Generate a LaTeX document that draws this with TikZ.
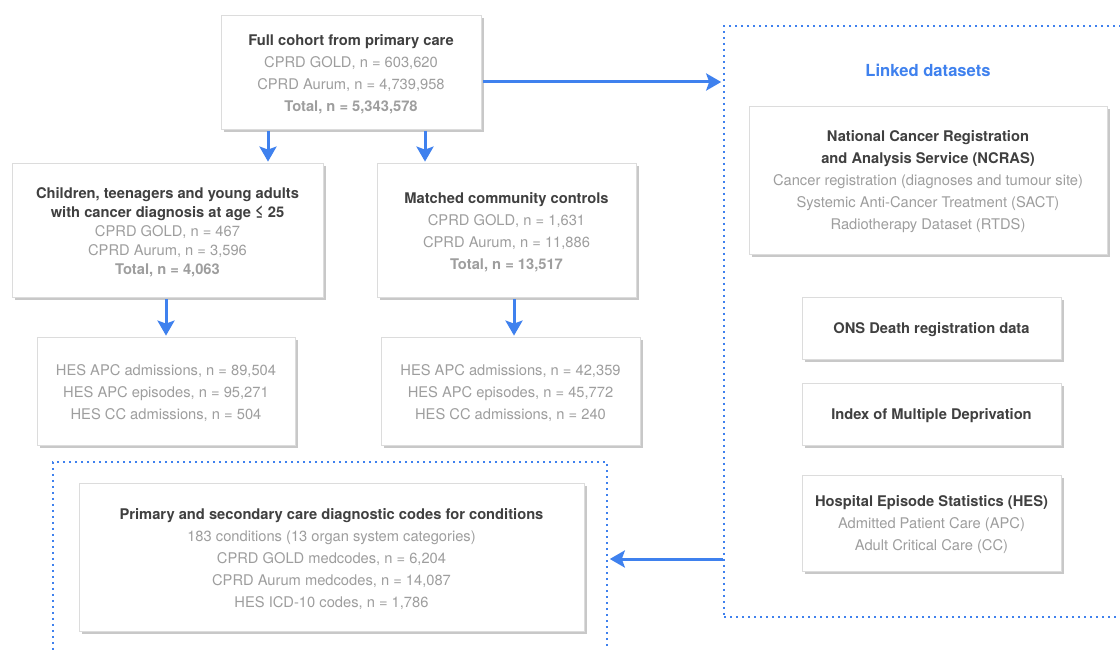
\documentclass[tikz,border=0pt]{standalone}
\usepackage{fontspec}
\setmainfont{TeX Gyre Heros}
\usetikzlibrary{arrows.meta,shadows}
\definecolor{blu}{HTML}{3F81EE}
\definecolor{ttl}{HTML}{404040}
\definecolor{sub}{HTML}{9E9E9E}
\definecolor{bord}{HTML}{DCDCDC}
\definecolor{shd}{HTML}{C8C8C8}
\tikzset{
  box/.style={draw=bord, fill=white, line width=0.8pt, align=center, inner sep=0pt,
    drop shadow={shadow xshift=3pt, shadow yshift=-3pt, opacity=1, fill=shd},
    font=\fontsize{14.7}{22}\selectfont, text=sub},
  container/.style={draw=blu, line width=1.6pt, dash pattern=on 1.6pt off 4.4pt, inner sep=0pt},
  arr/.style={draw=blu, line width=3pt, -{Stealth[width=17pt,length=15pt,inset=3pt]}},
}
\newcommand{\ttlb}[1]{{\bfseries\color{ttl}#1}}
\newcommand{\topstrut}{\rule{0pt}{15pt}}
\begin{document}
\begin{tikzpicture}[x=1pt,y=-1pt]
\clip (0,0) rectangle (1120,650);
\fill[white] (0,0) rectangle (1120,650);

% containers
\node[container, minimum width=416pt, minimum height=591pt] (linked) at (932,321.5) {};
\node[container, minimum width=554pt, minimum height=218pt] (codes) at (330,571) {};
\node[font=\fontsize{16.6}{20}\selectfont\bfseries, text=blu] (ltitle) at (928,70) {Linked datasets};

% left column
\node[box, minimum width=260pt, minimum height=114pt] (full) at (351,72)
  {\topstrut\ttlb{Full cohort from primary care}\\ CPRD GOLD, n = 603,620\\ CPRD Aurum, n = 4,739,958\\ \textbf{Total, n = 5,343,578}};

\node[box, minimum width=311pt, minimum height=134pt, font=\fontsize{14.7}{19}\selectfont] (child) at (167.5,230)
  {\topstrut\ttlb{Children, teenagers and young adults}\\ \ttlb{with cancer diagnosis at age ≤ 25}\\ CPRD GOLD, n = 467\\ CPRD Aurum, n = 3,596\\ \textbf{Total, n = 4,063}};

\node[box, minimum width=259pt, minimum height=134pt] (match) at (506.5,230)
  {\topstrut\ttlb{Matched community controls}\\ CPRD GOLD, n = 1,631\\ CPRD Aurum, n = 11,886\\ \textbf{Total, n = 13,517}};

\node[box, minimum width=258pt, minimum height=108pt] (hesl) at (166,391)
  {\topstrut HES APC admissions, n = 89,504\\ HES APC episodes, n = 95,271\\ HES CC admissions, n = 504};

\node[box, minimum width=259pt, minimum height=108pt] (hesr) at (510.5,391)
  {\topstrut HES APC admissions, n = 42,359\\ HES APC episodes, n = 45,772\\ HES CC admissions, n = 240};

\node[box, minimum width=505pt, minimum height=148pt] (diag) at (331.5,557)
  {\topstrut\ttlb{Primary and secondary care diagnostic codes for conditions}\\ 183 conditions (13 organ system categories)\\ CPRD GOLD medcodes, n = 6,204\\ CPRD Aurum medcodes, n = 14,087\\ HES ICD-10 codes, n = 1,786};

% right column
\node[box, minimum width=358pt, minimum height=148pt] (ncras) at (928,180)
  {\topstrut\ttlb{National Cancer Registration}\\ \ttlb{and Analysis Service (NCRAS)}\\ Cancer registration (diagnoses and tumour site)\\ Systemic Anti-Cancer Treatment (SACT)\\ Radiotherapy Dataset (RTDS)};

\node[box, minimum width=259pt, minimum height=62pt] (ons) at (931.5,328)
  {\topstrut\ttlb{ONS Death registration data}};

\node[box, minimum width=259pt, minimum height=62pt] (imd) at (931.5,414)
  {\topstrut\ttlb{Index of Multiple Deprivation}};

\node[box, minimum width=259pt, minimum height=96pt] (hes) at (931.5,523)
  {\topstrut\ttlb{Hospital Episode Statistics (HES)}\\ Admitted Patient Care (APC)\\ Adult Critical Care (CC)};

% arrows
\coordinate (xa) at (268,0);
\coordinate (xb) at (425,0);
\coordinate (xc) at (166,0);
\coordinate (xd) at (514,0);
\coordinate (ya) at (0,82);
\coordinate (yb) at (0,559);
\draw[arr, shorten <=2pt, shorten >=1pt] (full.south -| xa) -- (child.north -| xa);
\draw[arr, shorten <=2pt, shorten >=1pt] (full.south -| xb) -- (match.north -| xb);
\draw[arr, shorten <=2pt, shorten >=1pt] (child.south -| xc) -- (hesl.north -| xc);
\draw[arr, shorten <=2pt, shorten >=1pt] (match.south -| xd) -- (hesr.north -| xd);
\draw[arr, shorten <=2pt, shorten >=2pt] (full.east |- ya) -- (linked.west |- ya);
\draw[arr, shorten >=2pt] (linked.west |- yb) -- (codes.east |- yb);
\end{tikzpicture}
\end{document}
